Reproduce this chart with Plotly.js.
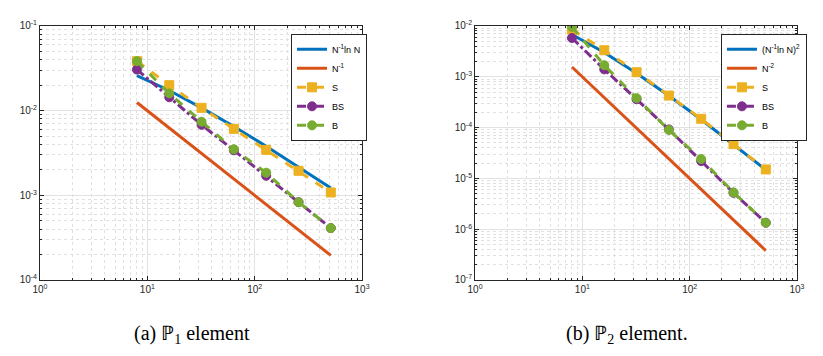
<!DOCTYPE html>
<html>
<head>
<meta charset="utf-8">
<script src="https://cdn.plot.ly/plotly-3.0.1.min.js"></script>
<style>
  html, body { margin: 0; padding: 0; background: #fff; }
  #chart { width: 823px; height: 356px; }
</style>
</head>
<body>
<div id="chart"></div>
<script>
// mesh sizes
const N = [8, 16, 32, 64, 128, 256, 512];

// P1 element errors
const p1Ref = [0.026, 0.0173, 0.0108, 0.0065, 0.0038, 0.00217, 0.00122];
const p1Rate = [0.0125, 0.00625, 0.00313, 0.00156, 0.00078, 0.00039, 0.000195];
const p1S = [0.0384, 0.020, 0.0108, 0.0061, 0.00344, 0.00195, 0.00108];
const p1BS = [0.0306, 0.0144, 0.0068, 0.0034, 0.0017, 0.00083, 0.00041];
const p1B = [0.0384, 0.016, 0.0074, 0.0035, 0.00185, 0.00083, 0.00041];

// P2 element errors
const p2Ref = [0.0068, 0.0030, 0.00117, 0.000422, 0.000144, 0.0000469, 0.0000148];
const p2Rate = [0.00156, 0.00039, 0.0000977, 0.0000244, 0.0000061, 0.00000153, 0.00000038];
const p2S = [0.0085, 0.00333, 0.00123, 0.000427, 0.000149, 0.0000472, 0.000015];
const p2BS = [0.0058, 0.0014, 0.000361, 0.000092, 0.0000219, 0.0000052, 0.00000134];
const p2B = [0.0096, 0.00169, 0.00038, 0.00009, 0.000024, 0.0000053, 0.00000134];

const xTicks = [1, 10, 100, 1000];
const xTickText = ["10<sup>0</sup>", "10<sup>1</sup>", "10<sup>2</sup>", "10<sup>3</sup>"];
const y1Ticks = [1e-4, 1e-3, 1e-2, 1e-1];
const y1TickText = ["10<sup>-4</sup>", "10<sup>-3</sup>", "10<sup>-2</sup>", "10<sup>-1</sup>"];
const y2Ticks = [1e-7, 1e-6, 1e-5, 1e-4, 1e-3, 1e-2];
const y2TickText = ["10<sup>-7</sup>", "10<sup>-6</sup>", "10<sup>-5</sup>", "10<sup>-4</sup>", "10<sup>-3</sup>", "10<sup>-2</sup>"];

const blue = "#0072BD";
const orange = "#D95319";
const yellow = "#EDB120";
const purple = "#7E2F8E";
const green = "#77AC30";

function line(y, name, color, xa, ya, leg) {
  return {
    x: N, y, name, type: "scatter", mode: "lines",
    xaxis: xa, yaxis: ya, legend: leg,
    line: { color, width: 3 }
  };
}

function marked(y, name, color, dash, symbol, xa, ya, leg) {
  return {
    x: N, y, name, type: "scatter", mode: "lines+markers",
    xaxis: xa, yaxis: ya, legend: leg,
    line: { color, width: 3, dash },
    marker: { color, size: 9, symbol, line: { color, width: 1 } }
  };
}

const data = [
  line(p1Ref, "N<sup>-1</sup>ln N", blue, "x", "y", "legend"),
  line(p1Rate, "N<sup>-1</sup>", orange, "x", "y", "legend"),
  marked(p1S, "S", yellow, "dash", "square", "x", "y", "legend"),
  marked(p1BS, "BS", purple, "dashdot", "circle", "x", "y", "legend"),
  marked(p1B, "B", green, "dash", "circle", "x", "y", "legend"),
  line(p2Ref, "(N<sup>-1</sup>ln N)<sup>2</sup>", blue, "x2", "y2", "legend2"),
  line(p2Rate, "N<sup>-2</sup>", orange, "x2", "y2", "legend2"),
  marked(p2S, "S", yellow, "dash", "square", "x2", "y2", "legend2"),
  marked(p2BS, "BS", purple, "dashdot", "circle", "x2", "y2", "legend2"),
  marked(p2B, "B", green, "dash", "circle", "x2", "y2", "legend2")
];

const axisFont = { family: "Liberation Sans, Arial, sans-serif", size: 10, color: "#262626" };

function logAxis(range, domain, tickvals, ticktext, anchor) {
  return {
    type: "log",
    range,
    domain,
    anchor,
    tickmode: "array",
    tickvals,
    ticktext,
    tickfont: axisFont,
    ticks: "inside",
    ticklen: 4,
    tickcolor: "#262626",
    showline: true,
    linecolor: "#262626",
    linewidth: 1,
    mirror: "allticks",
    showgrid: true,
    gridcolor: "#e2e2e2",
    gridwidth: 1,
    zeroline: false,
    minor: {
      dtick: "D1",
      ticks: "inside",
      ticklen: 2,
      tickcolor: "#262626",
      showgrid: true,
      gridcolor: "#e0e0e0",
      griddash: "dot"
    }
  };
}

const legendBase = {
  xanchor: "left",
  yanchor: "top",
  y: 0.905,
  bgcolor: "#ffffff",
  bordercolor: "#262626",
  borderwidth: 1,
  font: { family: "Liberation Sans, Arial, sans-serif", size: 9, color: "#000" },
  tracegroupgap: 0,
  itemwidth: 30
};

const yDomain = [0.2135, 0.927];
const captionFont = { family: "Liberation Serif, Times New Roman, serif", size: 20, color: "#000" };

const layout = {
  width: 823,
  height: 356,
  autosize: false,
  margin: { l: 0, r: 0, t: 0, b: 0, pad: 0 },
  paper_bgcolor: "#ffffff",
  plot_bgcolor: "#ffffff",
  showlegend: true,
  xaxis: logAxis([0, 3], [0.0486, 0.4399], xTicks, xTickText, "y"),
  yaxis: logAxis([-4, -1], yDomain, y1Ticks, y1TickText, "x"),
  xaxis2: logAxis([0, 3], [0.5772, 0.9684], xTicks, xTickText, "y2"),
  yaxis2: logAxis([-7, -2], yDomain, y2Ticks, y2TickText, "x2"),
  legend: { ...legendBase, x: 0.3536 },
  legend2: { ...legendBase, x: 0.876 },
  annotations: [
    {
      text: "(a) ℙ<sub>1</sub> element",
      xref: "paper", yref: "paper", x: 0.233, y: 0.06,
      xanchor: "center", yanchor: "middle", showarrow: false,
      font: captionFont
    },
    {
      text: "(b) ℙ<sub>2</sub> element.",
      xref: "paper", yref: "paper", x: 0.762, y: 0.06,
      xanchor: "center", yanchor: "middle", showarrow: false,
      font: captionFont
    }
  ]
};

const config = { displayModeBar: false, staticPlot: true };

Plotly.newPlot("chart", data, layout, config);
</script>
</body>
</html>
